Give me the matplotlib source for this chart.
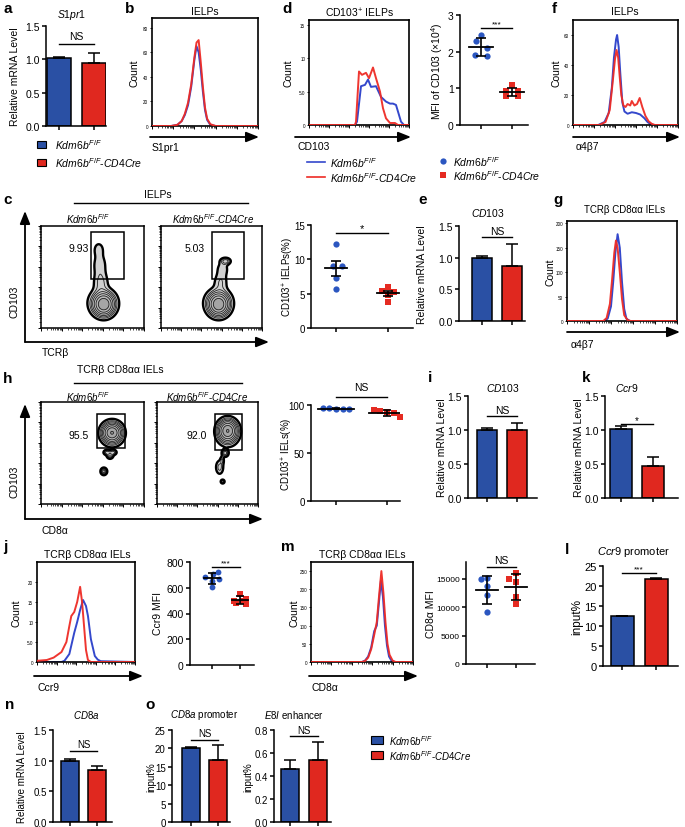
import numpy as np
import matplotlib
matplotlib.use('Agg')
import matplotlib.pyplot as plt
from matplotlib.patches import FancyArrowPatch, Rectangle
from matplotlib.lines import Line2D
from matplotlib.colors import LinearSegmentedColormap

plt.rcParams['font.family'] = ['Liberation Sans', 'DejaVu Sans']
plt.rcParams['mathtext.fontset'] = 'custom'
plt.rcParams['mathtext.rm'] = 'Liberation Sans'
plt.rcParams['mathtext.it'] = 'Liberation Sans:italic'
plt.rcParams['mathtext.bf'] = 'Liberation Sans:bold'

# ---------------- data ----------------
groups = ['Kdm6b F/F', 'Kdm6b F/F-CD4Cre']

# bar charts: means and upper error
a_means, a_errs = [1.02, 0.95], [0.01, 0.15]
e_means, e_errs = [1.00, 0.87], [0.02, 0.34]
i_means, i_errs = [1.00, 1.00], [0.03, 0.10]
k_means, k_errs = [1.02, 0.47], [0.04, 0.14]
l_means, l_errs = [12.4, 21.8], [0.1, 0.2]
n_means, n_errs = [0.99, 0.85], [0.03, 0.07]
o1_means, o1_errs = [20.1, 16.8], [0.2, 4.0]
o2_means, o2_errs = [0.46, 0.54], [0.075, 0.155]

# scatter (dot) plots
d_blue = [2.45, 2.28, 2.10, 1.90, 1.88]
d_red = [1.08, 0.93, 0.92, 0.78, 0.80]
c_blue = [12.2, 9.1, 9.1, 7.3, 5.7]
c_red = [6.0, 5.4, 5.3, 4.8, 3.8]
h_blue = [97.0, 96.5, 95.5, 95.5, 96.0]
h_red = [94.5, 93.5, 92.5, 91.5, 87.0]
j_blue = [720, 710, 685, 670, 655, 605]
j_red = [555, 515, 500, 495, 485, 475]
m_blue = [15000, 15200, 13700, 12200, 9100]
m_red = [15000, 16100, 14500, 11800, 10600]

# horizontal jitter of the dots (in group units)
d_jit = [[0.0, -0.17, 0.18, -0.2, 0.2], [0.0, -0.2, 0.2, -0.2, 0.2]]
c_jit = [[0.0, -0.06, 0.12, 0.0, 0.0], [0.0, -0.12, 0.12, 0.0, 0.0]]
h_jit = [[-0.26, -0.13, 0.0, 0.13, 0.26], [-0.26, -0.13, 0.0, 0.13, 0.26]]
j_jit = [[0.22, 0.05, -0.25, 0.25, 0.0, 0.0], [0.0, 0.2, -0.2, 0.1, -0.15, 0.2]]
m_jit = [[-0.2, 0.0, 0.0, 0.0, 0.0], [-0.23, 0.0, 0.0, 0.0, 0.0]]

# flow histograms (x = fraction of axis, y = count)
b_bx = [0, 0.18, 0.24, 0.28, 0.31, 0.34, 0.37, 0.40, 0.42, 0.44, 0.46, 0.48, 0.50, 0.52, 0.55, 0.60, 1.0]
b_by = [0, 0, 1, 4, 9, 17, 32, 54, 65, 60, 46, 28, 13, 5, 1, 0, 0]
b_rx = b_bx
b_ry = [0, 0, 1, 4, 10, 19, 34, 56, 68, 70, 52, 32, 15, 6, 1.5, 0, 0]

d_rx = [0, 0.46, 0.47, 0.50, 0.53, 0.57, 0.60, 0.64, 0.67, 0.71, 0.74, 0.77, 0.81, 0.86, 0.89, 1.0]
d_ry = [0, 0, 0.5, 8.0, 7.5, 7.8, 7.0, 8.6, 7.0, 5.0, 2.5, 1.0, 0.3, 0.3, 0, 0]
d_bx = [0, 0.46, 0.48, 0.52, 0.56, 0.59, 0.62, 0.67, 0.72, 0.77, 0.81, 0.84, 0.87, 0.90, 0.92, 0.95, 1.0]
d_by = [0, 0, 0.5, 5.8, 6.0, 6.8, 5.7, 5.8, 4.2, 3.5, 3.2, 3.2, 3.0, 1.5, 0.5, 0, 0]

f_bx = [0, 0.24, 0.30, 0.34, 0.37, 0.39, 0.41, 0.42, 0.435, 0.45, 0.47, 0.49, 0.52, 0.56, 0.60, 0.64, 0.68, 0.71, 0.74, 0.77, 1.0]
f_by = [0, 0, 2, 8, 25, 45, 57, 60, 52, 35, 15, 9, 7.5, 8.5, 8, 7, 4.5, 2, 0.5, 0, 0]
f_rx = [0, 0.25, 0.31, 0.35, 0.38, 0.40, 0.415, 0.43, 0.445, 0.46, 0.48, 0.50, 0.52, 0.545, 0.56, 0.585, 0.61, 0.635, 0.66, 0.69, 0.72, 0.75, 0.78, 1.0]
f_ry = [0, 0, 2, 10, 30, 44, 50, 45, 32, 20, 13, 12, 14, 13, 16, 13, 14, 18, 12, 6, 2.5, 0.8, 0, 0]

g_bx = [0, 0.34, 0.37, 0.40, 0.42, 0.44, 0.46, 0.48, 0.50, 0.52, 0.54, 0.57, 1.0]
g_by = [0, 0, 5, 30, 80, 140, 178, 150, 80, 25, 5, 0, 0]
g_rx = [0, 0.33, 0.36, 0.39, 0.41, 0.43, 0.445, 0.46, 0.48, 0.50, 0.52, 0.55, 0.58, 1.0]
g_ry = [0, 0, 6, 35, 85, 140, 165, 150, 100, 45, 12, 2, 0, 0]

j_rx = [0, 0.10, 0.17, 0.25, 0.30, 0.33, 0.35, 0.38, 0.41, 0.44, 0.46, 0.48, 0.50, 0.52, 0.55, 1.0]
j_ry = [0.3, 0.5, 1.1, 2.5, 5, 9, 11.5, 12.5, 15, 18.8, 15, 9, 3, 0.5, 0, 0]
j_bx = [0, 0.25, 0.28, 0.33, 0.38, 0.41, 0.44, 0.47, 0.50, 0.52, 0.55, 0.59, 0.62, 0.65, 1.0]
j_by = [0, 0, 0.3, 2, 7.3, 10, 13, 15.5, 14, 11.5, 5.7, 1.5, 0.6, 0.2, 0]

m_rx = [0, 0.50, 0.53, 0.56, 0.59, 0.62, 0.645, 0.665, 0.69, 0.71, 0.73, 0.75, 0.77, 0.80, 0.83, 1.0]
m_ry = [0, 0, 3, 12, 35, 75, 110, 175, 250, 190, 110, 50, 20, 4, 0, 0]
m_bx = [0, 0.50, 0.53, 0.56, 0.59, 0.62, 0.645, 0.665, 0.685, 0.705, 0.725, 0.745, 0.765, 0.79, 0.82, 1.0]
m_by = [0, 0, 4, 15, 40, 85, 100, 160, 223, 180, 100, 45, 15, 3, 0, 0]

# flow contour populations: (cx, cy, sx, sy, weight)
c_left_pop = [(0.61, 0.23, 0.055, 0.06, 1.0), (0.60, 0.25, 0.075, 0.075, 0.30),
              (0.58, 0.45, 0.045, 0.07, 0.14), (0.57, 0.62, 0.042, 0.07, 0.11),
              (0.56, 0.77, 0.035, 0.05, 0.09)]
c_right_pop = [(0.57, 0.23, 0.055, 0.06, 1.0), (0.57, 0.25, 0.075, 0.075, 0.30),
               (0.59, 0.45, 0.042, 0.06, 0.12), (0.61, 0.58, 0.038, 0.05, 0.10),
               (0.64, 0.655, 0.03, 0.02, 0.22)]
h_left_pop = [(0.69, 0.70, 0.05, 0.05, 1.0), (0.69, 0.69, 0.06, 0.065, 0.35),
              (0.64, 0.505, 0.02, 0.015, 0.22), (0.70, 0.505, 0.02, 0.015, 0.22),
              (0.67, 0.475, 0.018, 0.018, 0.28), (0.61, 0.32, 0.016, 0.018, 0.5)]
h_right_pop = [(0.70, 0.72, 0.05, 0.055, 1.0), (0.70, 0.70, 0.06, 0.07, 0.35),
               (0.675, 0.50, 0.018, 0.02, 0.35), (0.645, 0.43, 0.012, 0.025, 0.12),
               (0.62, 0.36, 0.025, 0.045, 0.15), (0.65, 0.22, 0.01, 0.01, 0.35)]
c_gate_vals = ['9.93', '5.03']
h_gate_vals = ['95.5', '92.0']

# ---------------- styling ----------------
BLUE, RED = '#2a50a4', '#e0281f'
HBLUE, HRED = '#3448cc', '#ee2b25'
SBLUE, SRED = '#2b56c0', '#e52b22'
WT = r'$\mathit{Kdm6b}^{\mathit{F/F}}$'
KO = r'$\mathit{Kdm6b}^{\mathit{F/F}}\text{-}\mathit{CD4Cre}$'

W, H = 685, 828
fig = plt.figure(figsize=(W / 100, H / 100), dpi=100)


def fx(x):
    return x / W


def fy(y):
    return 1 - y / H


def axpx(x0, y0, x1, y1):
    ax = fig.add_axes([fx(x0), fy(y1), (x1 - x0) / W, (y1 - y0) / H])
    ax.patch.set_alpha(0)
    return ax


def ftext(x, y, s, **kw):
    kw.setdefault('ha', 'center')
    kw.setdefault('va', 'center')
    fig.text(fx(x), fy(y), s, **kw)


def farrow(x0, y0, x1, y1, lw=1.3):
    fig.add_artist(FancyArrowPatch((fx(x0), fy(y0)), (fx(x1), fy(y1)),
                                   transform=fig.transFigure,
                                   arrowstyle='-|>,head_length=0.55,head_width=0.22',
                                   mutation_scale=14, lw=lw, color='k',
                                   shrinkA=0, shrinkB=0))


def fline(x0, y0, x1, y1, lw=1.0, color='k'):
    fig.add_artist(Line2D([fx(x0), fx(x1)], [fy(y0), fy(y1)],
                          transform=fig.transFigure, color=color, lw=lw))


def plain_axes(ax, fs=7.5, lw=1.1):
    for s in ['top', 'right']:
        ax.spines[s].set_visible(False)
    for s in ['left', 'bottom']:
        ax.spines[s].set_linewidth(lw)
    ax.tick_params(axis='both', direction='out', length=3, width=lw,
                   labelsize=fs, pad=1.5)
    ax.set_xticks([0, 1])
    ax.set_xticklabels([])


def sig(ax, yl, yt, txt, fs=7.5):
    ax.plot([0, 1], [yl, yl], color='k', lw=1.0, clip_on=False)
    ax.text(0.5, yt, txt, ha='center', va='center', fontsize=fs, clip_on=False)


def bar_panel(spine, end, c0, c1, top, bot, bw, means, errs, ylim, yticks,
              ytl, fs=7.5):
    ax = axpx(spine, top, end, bot)
    u = c1 - c0
    ax.set_xlim((spine - c0) / u, (end - c0) / u)
    ax.set_ylim(*ylim)
    ax.bar([0, 1], means, width=bw / u, color=[BLUE, RED], edgecolor='k',
           linewidth=1.1, zorder=2)
    for g, (m, e) in enumerate(zip(means, errs)):
        ax.errorbar(g, m, yerr=[[0], [e]], color='k', capsize=4.5,
                    elinewidth=1.1, capthick=1.1, zorder=3)
    plain_axes(ax, fs)
    ax.set_yticks(yticks)
    ax.set_yticklabels(ytl)
    return ax


def dot_panel(spine, end, c0, c1, top, bot, vals, jit, ylim, yticks, ytl,
              stat='sd', mhw=0.35, chw=3.5, ms=4.5, fs=7.5):
    ax = axpx(spine, top, end, bot)
    u = c1 - c0
    ax.set_xlim((spine - c0) / u, (end - c0) / u)
    ax.set_ylim(*ylim)
    for g in range(2):
        v = np.array(vals[g], dtype=float)
        m = v.mean()
        s = v.std(ddof=1)
        if stat == 'sem':
            s = s / np.sqrt(len(v))
        ax.plot(g + np.array(jit[g]), v, ls='none',
                marker='o' if g == 0 else 's', color=SBLUE if g == 0 else SRED,
                ms=ms, mew=0, zorder=2, clip_on=False)
        ax.plot([g - mhw, g + mhw], [m, m], color='k', lw=1.3, zorder=3)
        ax.errorbar(g, m, yerr=s, color='k', capsize=chw, elinewidth=1.2,
                    capthick=1.2, zorder=3)
    plain_axes(ax, fs)
    ax.set_yticks(yticks)
    ax.set_yticklabels(ytl)
    return ax


def hist_panel(x0, y0, x1, y1, bx, by, rx, ry, ymax, yticks, ytl):
    ax = axpx(x0, y0, x1, y1)
    ax.plot(bx, by, color=HBLUE, lw=1.4, zorder=2)
    ax.plot(rx, ry, color=HRED, lw=1.4, zorder=3, alpha=0.95)
    ax.set_xlim(0, 1)
    ax.set_ylim(0, ymax)
    ax.set_yticks(yticks)
    ax.set_yticklabels(ytl, fontsize=3.3)
    maj = np.arange(0, 1.001, 0.2)
    mino = [d + 0.2 * np.log10(k) for d in maj[:-1] for k in range(2, 10)]
    ax.set_xticks(maj)
    ax.set_xticks(mino, minor=True)
    ax.set_xticklabels([])
    ax.tick_params(axis='x', which='major', length=2.2, width=0.7, direction='out')
    ax.tick_params(axis='x', which='minor', length=1.2, width=0.5, direction='out')
    ax.tick_params(axis='y', length=1.5, width=0.6, pad=1.2, direction='out')
    for s in ax.spines.values():
        s.set_linewidth(1.2)
    return ax


zebra = LinearSegmentedColormap.from_list('zebra', ['#d4d4d4', '#bababa', '#9a9a9a'])


def contour_panel(x0, y0, x1, y1, pop, gate, gtxt, gpos):
    ax = axpx(x0, y0, x1, y1)
    gg = np.linspace(0, 1, 400)
    X, Y = np.meshgrid(gg, gg)
    D = np.zeros_like(X)
    for cx, cy, sx, sy, w in pop:
        D += w * np.exp(-((X - cx) ** 2 / (2 * sx ** 2) + (Y - cy) ** 2 / (2 * sy ** 2)))
    lev = list(np.geomspace(0.055, 1.3, 9))
    top = max(D.max(), lev[-1]) * 1.01
    ax.contourf(X, Y, D, levels=lev + [top], cmap=zebra)
    ax.contour(X, Y, D, levels=lev[2:], colors='#202020', linewidths=0.6)
    ax.contour(X, Y, D, levels=[lev[0]], colors='k', linewidths=1.7)
    gx0, gx1, gy0, gy1 = gate
    ax.add_patch(Rectangle((gx0, gy0), gx1 - gx0, gy1 - gy0, fill=False,
                           ec='k', lw=1.1, zorder=5))
    ax.text(gpos[0], gpos[1], gtxt, ha='center', va='center', fontsize=7.5)
    ax.set_xlim(0, 1)
    ax.set_ylim(0, 1)
    maj = np.arange(0, 1.001, 0.2)
    mino = [d + 0.2 * np.log10(k) for d in maj[:-1] for k in range(2, 10)]
    for setter in (ax.set_xticks, ax.set_yticks):
        setter(maj)
        setter(mino, minor=True)
    ax.set_xticklabels([])
    ax.set_yticklabels([])
    ax.tick_params(which='major', length=2.2, width=0.7, direction='out')
    ax.tick_params(which='minor', length=1.2, width=0.5, direction='out')
    for s in ax.spines.values():
        s.set_linewidth(1.1)
    return ax


def ylab(x, y, s, fs=7.5):
    ftext(x, y, s, rotation=90, fontsize=fs)


PL = dict(fontsize=11, fontweight='bold', ha='left')

# ---------------- row 1 ----------------
ftext(3, 9, 'a', **PL)
ftext(72, 15, r'$\mathit{S1pr1}$', fontsize=7.5)
ax = bar_panel(46, 106, 59, 93.5, 27, 127, 24, a_means, a_errs, (0, 1.5),
               [0, 0.5, 1.0, 1.5], ['0.0', '0.5', '1.0', '1.5'])
sig(ax, 1.23, 1.35, 'NS')
ylab(15, 77, 'Relative mRNA Level')
fig.add_artist(Rectangle((fx(37), fy(149)), 9 / W, 7 / H, transform=fig.transFigure,
                         fc=BLUE, ec='k', lw=0.8))
fig.add_artist(Rectangle((fx(37), fy(167)), 9 / W, 7 / H, transform=fig.transFigure,
                         fc=RED, ec='k', lw=0.8))
ftext(55, 145, WT, fontsize=7.5, ha='left')
ftext(55, 163, KO, fontsize=7.5, ha='left')

ftext(125, 9, 'b', **PL)
ftext(205, 12, 'IELPs', fontsize=7.5)
hist_panel(152, 19, 258, 127, b_bx, b_by, b_rx, b_ry, 88, [0, 20, 40, 60, 80],
           ['0', '20', '40', '60', '80'])
ylab(134, 73, 'Count')
farrow(150, 138, 259, 138)
ftext(152, 148, 'S1pr1', fontsize=7.5, ha='left')

ftext(282, 9, 'd', **PL)
ftext(360, 13, r'CD103$^{+}$ IELPs', fontsize=7.5)
hist_panel(309, 21, 409, 126, d_bx, d_by, d_rx, d_ry, 15.7, [0, 5, 10, 15],
           ['0', '5.0', '10', '15'])
ylab(288, 73, 'Count')
farrow(295, 138, 411, 138)
ftext(297, 147, 'CD103', fontsize=7.5, ha='left')
fline(307, 163, 325, 163, lw=1.2, color=HBLUE)
fline(307, 178, 325, 178, lw=1.2, color=HRED)
ftext(330, 163, WT, fontsize=7.5, ha='left')
ftext(330, 178, KO, fontsize=7.5, ha='left')

ax = dot_panel(460, 528, 481, 512, 16, 126, [d_blue, d_red], d_jit, (0, 3),
               [0, 1, 2, 3], ['0', '1', '2', '3'], stat='sd', mhw=0.39, chw=3.5)
sig(ax, 2.64, 2.75, '***', fs=6)
ylab(437, 71, r'MFI of CD103 ($\times$10$^{4}$)')
fig.add_artist(Line2D([fx(443)], [fy(162)], marker='o', color=SBLUE, ms=4.5, mew=0,
                      transform=fig.transFigure))
fig.add_artist(Line2D([fx(443)], [fy(176)], marker='s', color=SRED, ms=4.5, mew=0,
                      transform=fig.transFigure))
ftext(453, 162, WT, fontsize=7.5, ha='left')
ftext(453, 176, KO, fontsize=7.5, ha='left')

ftext(552, 9, 'f', **PL)
ftext(625, 12, 'IELPs', fontsize=7.5)
hist_panel(573, 21, 678, 126, f_bx, f_by, f_rx, f_ry, 70, [0, 20, 40, 60],
           ['0', '20', '40', '60'])
ylab(556, 73, 'Count')
farrow(573, 138, 680, 138)
ftext(576, 147, 'α4β7', fontsize=7.5, ha='left')

# ---------------- row 2 ----------------
ftext(3, 200, 'c', **PL)
ftext(158, 195, 'IELPs', fontsize=7.5)
fline(74, 204, 248, 204)
ftext(88, 219, WT, fontsize=7)
ftext(213, 219, KO, fontsize=7)
contour_panel(41, 227, 144, 329, c_left_pop, (0.49, 0.81, 0.48, 0.94),
              c_gate_vals[0], (0.37, 0.78))
contour_panel(161, 227, 262, 329, c_right_pop, (0.50, 0.82, 0.48, 0.94),
              c_gate_vals[1], (0.33, 0.78))
farrow(25, 343, 25, 212)
farrow(25, 343, 269, 343)
ylab(14, 302, 'CD103')
ftext(42, 353, 'TCRβ', fontsize=7.5, ha='left')

ax = dot_panel(311, 413, 336, 388, 226, 329, [c_blue, c_red], c_jit, (0, 15),
               [0, 5, 10, 15], ['0', '5', '10', '15'], stat='sem', mhw=0.22, chw=3.5,
               fs=7)
sig(ax, 13.8, 14.6, '*', fs=8)
ylab(288, 277, r'CD103$^{+}$ IELPs(%)', fs=7)

ftext(418, 200, 'e', **PL)
ftext(488, 213, r'$\mathit{CD103}$', fontsize=7.5)
ax = bar_panel(459, 525, 482, 512, 227, 322, 20, e_means, e_errs, (0, 1.5),
               [0, 0.5, 1.0, 1.5], ['0.0', '0.5', '1.0', '1.5'])
sig(ax, 1.33, 1.42, 'NS')
ylab(422, 275, 'Relative mRNA Level')

ftext(553, 200, 'g', **PL)
ftext(625, 210, 'TCRβ CD8αα IELs', fontsize=7)
hist_panel(567, 222, 677, 322, g_bx, g_by, g_rx, g_ry, 205, [0, 50, 100, 150, 200],
           ['0', '50', '100', '150', '200'])
ylab(550, 272, 'Count')
farrow(567, 333, 680, 333)
ftext(571, 345, 'α4β7', fontsize=7.5, ha='left')

# ---------------- row 3 ----------------
ftext(3, 379, 'h', **PL)
ftext(120, 370, 'TCRβ CD8αα IELs', fontsize=7.5)
fline(74, 384, 242, 384)
ftext(88, 397, WT, fontsize=7)
ftext(207, 397, KO, fontsize=7)
contour_panel(41, 403, 144, 505, h_left_pop, (0.54, 0.82, 0.55, 0.88),
              h_gate_vals[0], (0.37, 0.68))
contour_panel(157, 403, 258, 505, h_right_pop, (0.57, 0.84, 0.53, 0.88),
              h_gate_vals[1], (0.39, 0.68))
farrow(25, 520, 25, 405)
farrow(25, 520, 263, 520)
ylab(14, 482, 'CD103')
ftext(42, 531, 'CD8α', fontsize=7.5, ha='left')

ax = dot_panel(311, 400, 336, 387, 406, 502, [h_blue, h_red], h_jit, (0, 100),
               [0, 50, 100], ['0', '50', '100'], stat='sd', mhw=0.36, chw=3, fs=7)
sig(ax, 108, 119, 'NS')
ylab(287, 454, r'CD103$^{+}$ IELs(%)', fs=7)

ftext(428, 378, 'i', **PL)
ftext(503, 388, r'$\mathit{CD103}$', fontsize=7.5)
ax = bar_panel(468, 537, 487, 517, 397, 499, 20, i_means, i_errs, (0, 1.5),
               [0, 0.5, 1.0, 1.5], ['0.0', '0.5', '1.0', '1.5'])
sig(ax, 1.21, 1.29, 'NS')
ylab(442, 448, 'Relative mRNA Level')

ftext(582, 378, 'k', **PL)
ftext(627, 388, r'$\mathit{Ccr9}$', fontsize=7.5)
ax = bar_panel(605, 678, 621, 653, 397, 499, 22, k_means, k_errs, (0, 1.5),
               [0, 0.5, 1.0, 1.5], ['0.0', '0.5', '1.0', '1.5'])
sig(ax, 1.09, 1.15, '*', fs=7)
ylab(579, 448, 'Relative mRNA Level')

# ---------------- row 4 ----------------
ftext(3, 547, 'j', **PL)
ftext(87, 555, 'TCRβ CD8αα IELs', fontsize=7.5)
hist_panel(37, 563, 135, 663, j_bx, j_by, j_rx, j_ry, 25, [0, 5, 10, 15, 20],
           ['0', '5.0', '10', '15', '20'])
ylab(17, 613, 'Count')
farrow(34, 677, 143, 677)
ftext(37, 688, 'Ccr9', fontsize=7.5, ha='left')

ax = dot_panel(190, 254, 212, 240, 563, 666, [j_blue, j_red], j_jit, (0, 800),
               [0, 200, 400, 600, 800], ['0', '200', '400', '600', '800'],
               stat='sd', mhw=0.3, chw=3, ms=4.2)
sig(ax, 760, 790, '***', fs=6)
ylab(158, 614, 'Ccr9 MFI')

ftext(281, 547, 'm', **PL)
ftext(362, 555, 'TCRβ CD8αα IELs', fontsize=7.5)
hist_panel(311, 563, 413, 663, m_bx, m_by, m_rx, m_ry, 275, [0, 50, 100, 150, 200, 250],
           ['0', '50', '100', '150', '200', '250'])
ylab(295, 613, 'Count')
farrow(309, 677, 418, 677)
ftext(311, 688, 'CD8α', fontsize=7.5, ha='left')

ax = dot_panel(466, 535, 487, 516, 563, 665, [m_blue, m_red], m_jit, (0, 18000),
               [0, 5000, 10000, 15000], ['0', '5000', '10000', '15000'],
               stat='sd', mhw=0.38, chw=3.5, fs=6)
sig(ax, 17060, 18300, 'NS')
ylab(431, 614, 'CD8α MFI')

ftext(565, 550, 'l', **PL)
ftext(633, 552, r'$\mathit{Ccr9}$ promoter', fontsize=8)
ax = bar_panel(603, 678, 622, 656, 567, 667, 23, l_means, l_errs, (0, 25),
               [0, 5, 10, 15, 20, 25], ['0', '5', '10', '15', '20', '25'], fs=8)
sig(ax, 23.2, 24.3, '***', fs=6)
ylab(577, 617, 'input%', fs=8.5)

# ---------------- row 5 ----------------
ftext(5, 705, 'n', **PL)
ftext(86, 715, r'$\mathit{CD8a}$', fontsize=7)
ax = bar_panel(53, 112, 70, 97, 731, 823, 18, n_means, n_errs, (0, 1.5),
               [0, 0.5, 1.0, 1.5], ['0.0', '0.5', '1.0', '1.5'], fs=7)
sig(ax, 1.15, 1.27, 'NS', fs=7)
ylab(22, 777, 'Relative mRNA Level', fs=7)

ftext(145, 705, 'o', **PL)
ftext(204, 715, r'$\mathit{CD8a}$ promoter', fontsize=7)
ax = bar_panel(172, 230, 191, 218, 731, 823, 18, o1_means, o1_errs, (0, 25),
               [0, 5, 10, 15, 20, 25], ['0', '5', '10', '15', '20', '25'], fs=7)
sig(ax, 22.3, 24.2, 'NS', fs=7)
ylab(151, 777, 'input%', fs=7)

ftext(294, 715, r'$\mathit{E8I}$ enhancer', fontsize=7)
ax = bar_panel(274, 331, 290, 318, 731, 823, 18, o2_means, o2_errs, (0, 0.8),
               [0, 0.2, 0.4, 0.6, 0.8], ['0.0', '0.2', '0.4', '0.6', '0.8'], fs=7)
sig(ax, 0.745, 0.80, 'NS', fs=7)
ylab(248, 777, 'input%', fs=7)

fig.add_artist(Rectangle((fx(371), fy(745)), 12 / W, 8 / H, transform=fig.transFigure,
                         fc=BLUE, ec='k', lw=0.8))
fig.add_artist(Rectangle((fx(371), fy(760)), 12 / W, 8 / H, transform=fig.transFigure,
                         fc=RED, ec='k', lw=0.8))
ftext(389, 741, WT, fontsize=7, ha='left')
ftext(389, 756, KO, fontsize=7, ha='left')

fig.savefig('out.png', dpi=100)
